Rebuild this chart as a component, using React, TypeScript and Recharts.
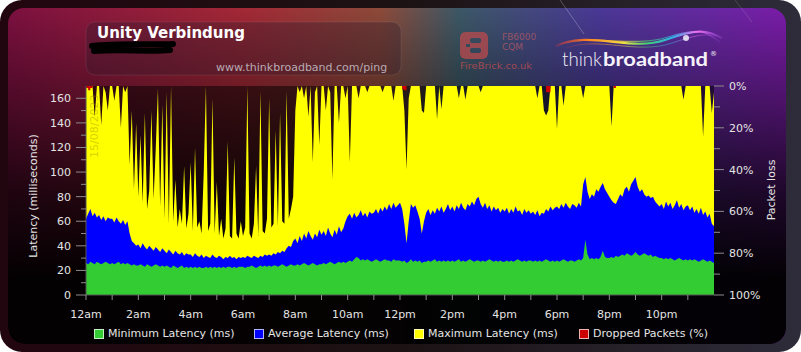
import React from "react";
import { ComposedChart, Area, XAxis, YAxis, CartesianGrid } from "recharts";

// one sample every 5 minutes, one row per hour, last value is 24:00
const maxLatency = [
  170, 168, 170, 170, 145, 170, 170, 138, 170, 165, 150, 170,
  170, 158, 170, 170, 136, 170, 165, 170, 106, 150, 86, 140,
  80, 130, 75, 148, 70, 85, 150, 78, 120, 168, 72, 155,
  62, 165, 58, 170, 60, 94, 55, 70, 58, 105, 54, 66,
  108, 52, 120, 55, 60, 50, 100, 170, 52, 58, 160, 50,
  92, 48, 62, 46, 54, 125, 48, 46, 112, 50, 46, 60,
  48, 55, 170, 50, 46, 58, 105, 48, 166, 52, 50, 62,
  160, 55, 58, 134, 56, 148, 60, 58, 166, 62, 70, 80,
  150, 170, 165, 170, 160, 170, 145, 170, 108, 165, 170, 122,
  170, 170, 150, 170, 165, 94, 170, 170, 140, 170, 170, 160,
  170, 108, 170, 170, 170, 160, 170, 170, 170, 165, 170, 170,
  170, 170, 170, 170, 165, 170, 170, 170, 170, 158, 170, 170,
  170, 170, 150, 102, 160, 170, 170, 170, 170, 170, 150, 148,
  170, 170, 170, 170, 170, 143, 170, 151, 170, 170, 170, 170,
  170, 170, 170, 160, 170, 170, 159, 170, 170, 170, 170, 170,
  170, 165, 170, 170, 170, 170, 170, 170, 170, 170, 170, 170,
  170, 170, 170, 170, 170, 170, 170, 170, 170, 170, 170, 170,
  170, 170, 170, 160, 170, 170, 150, 146, 150, 170, 170, 170,
  135, 170, 170, 154, 170, 170, 170, 170, 170, 170, 170, 170,
  160, 170, 170, 170, 170, 170, 170, 170, 170, 170, 170, 170,
  170, 137, 170, 170, 170, 170, 170, 170, 170, 170, 170, 170,
  170, 170, 170, 170, 170, 170, 170, 170, 170, 170, 170, 170,
  170, 170, 170, 170, 170, 170, 170, 170, 170, 170, 159, 170,
  170, 170, 170, 170, 170, 170, 170, 129, 170, 170, 170, 148,
  165,
];

const avgLatency = [
  62, 66, 70, 64, 67, 63, 65, 61, 64, 60, 63, 62,
  62, 59, 63, 60, 58, 61, 57, 60, 50, 44, 42, 40,
  41, 38, 42, 39, 37, 40, 38, 36, 39, 37, 35, 38,
  36, 34, 37, 35, 33, 36, 34, 33, 35, 32, 34, 33,
  33, 31, 34, 32, 31, 33, 30, 32, 31, 30, 33, 31,
  30, 32, 31, 29, 31, 30, 32, 30, 31, 29, 31, 30,
  31, 30, 32, 31, 30, 32, 31, 30, 32, 31, 33, 32,
  33, 32, 34, 33, 35, 34, 36, 35, 38, 40, 39, 44,
  46, 42, 48, 44, 50, 46, 52, 48, 45, 50, 47, 53,
  49, 52, 48, 55, 50, 47, 53, 49, 56, 51, 54, 60,
  64, 66, 62, 67, 63, 65, 69, 64, 67, 63, 68, 66,
  67, 70, 66, 71, 68, 72, 69, 74, 70, 75, 71, 73,
  75, 70, 58, 42, 60, 74, 71, 73, 68, 62, 50, 60,
  67, 70, 65, 69, 66, 71, 68, 72, 67, 70, 74, 69,
  72, 68, 73, 70, 75, 71, 69, 74, 72, 76, 73, 78,
  80, 74, 71, 75, 70, 73, 68, 72, 69, 71, 67, 70,
  68, 71, 66, 70, 67, 72, 68, 69, 65, 70, 67, 69,
  66, 68, 65, 69, 64, 67, 66, 70, 68, 72, 69, 71,
  72, 70, 74, 71, 75, 72, 70, 74, 73, 71, 75, 72,
  90, 96, 84, 78, 82, 80, 86, 84, 88, 91, 86, 83,
  80, 77, 75, 74, 78, 82, 80, 86, 88, 84, 90, 93,
  96, 88, 84, 86, 82, 80, 81, 79, 80, 76, 74, 72,
  74, 70, 76, 72, 75, 70, 73, 77, 71, 74, 69, 72,
  73, 69, 72, 67, 70, 66, 71, 65, 68, 63, 66, 58,
  56,
];

const minLatency = [
  26, 25, 27, 26, 25, 27, 26, 25, 26, 27, 26, 25,
  26, 25, 26, 27, 25, 26, 25, 26, 25, 24, 25, 24,
  24, 25, 24, 23, 25, 24, 23, 24, 25, 24, 23, 24,
  23, 24, 23, 22, 24, 23, 22, 23, 24, 22, 23, 22,
  23, 22, 23, 22, 23, 22, 22, 23, 22, 23, 22, 23,
  22, 23, 22, 23, 22, 23, 23, 22, 23, 22, 23, 23,
  23, 22, 23, 23, 24, 23, 22, 23, 24, 23, 24, 23,
  24, 23, 24, 24, 23, 24, 25, 24, 23, 24, 25, 24,
  24, 25, 24, 25, 26, 25, 24, 25, 26, 25, 24, 25,
  25, 26, 25, 26, 27, 26, 25, 26, 27, 26, 27, 26,
  27, 28, 27, 29, 31, 30, 28, 29, 28, 29, 28, 27,
  28, 29, 28, 27, 28, 29, 28, 28, 27, 29, 28, 28,
  28, 27, 28, 26, 27, 29, 27, 28, 27, 28, 26, 27,
  27, 28, 27, 28, 29, 27, 28, 27, 28, 27, 28, 27,
  28, 27, 28, 29, 27, 28, 27, 28, 29, 28, 27, 28,
  28, 27, 28, 27, 28, 29, 28, 27, 28, 27, 28, 27,
  27, 28, 27, 28, 27, 28, 29, 28, 27, 28, 27, 28,
  28, 27, 28, 27, 28, 27, 28, 29, 28, 27, 28, 27,
  28, 27, 28, 29, 28, 27, 28, 28, 27, 28, 29, 28,
  30, 45, 33, 29, 30, 29, 30, 29, 31, 36, 31, 30,
  30, 31, 30, 32, 31, 32, 33, 32, 34, 33, 32, 33,
  35, 33, 32, 33, 34, 33, 32, 33, 31, 32, 31, 30,
  30, 29, 30, 29, 30, 29, 28, 29, 30, 29, 28, 29,
  28, 29, 28, 29, 28, 27, 28, 29, 28, 27, 28, 27,
  26,
];

const droppedPackets = [
  1, 2, 1, 0, 0, 0, 0, 0, 0, 0, 0, 0,
  0, 0, 0, 0, 0, 0, 0, 0, 0, 0, 0, 0,
  0, 0, 0, 0, 0, 0, 0, 0, 0, 0, 0, 0,
  0, 0, 0, 0, 0, 0, 0, 0, 0, 0, 0, 0,
  0, 0, 0, 0, 0, 0, 0, 0, 0, 0, 0, 0,
  0, 0, 0, 0, 0, 0, 0, 0, 0, 0, 0, 0,
  0, 0, 0, 0, 0, 0, 0, 0, 0, 0, 0, 0,
  0, 0, 0, 0, 0, 0, 0, 0, 0, 0, 0, 0,
  0, 0, 0, 0, 0, 0, 0, 0, 0, 0, 0, 0,
  0, 0, 0, 0, 0, 0, 0, 0, 0, 0, 0, 0,
  0, 0, 0, 0, 0, 0, 0, 0, 0, 0, 0, 0,
  0, 0, 0, 0, 0, 0, 0, 0, 0, 0, 0, 0,
  0, 1.5, 2, 0, 0, 0, 0, 0, 0, 0, 0, 0,
  0, 0, 0, 0, 0, 0, 0, 0, 0, 0, 0, 0,
  0, 0, 0, 0, 0, 0, 0, 0, 0, 0, 0, 0,
  0, 0, 0, 0, 0, 0, 0, 0, 0, 0, 0, 0,
  0, 0, 0, 0, 0, 0, 0, 0, 0, 0, 0, 0,
  0, 0, 0, 0, 0, 0, 0, 3, 3, 0, 0, 0,
  0, 0, 0, 0, 0, 0, 0, 0, 0, 0, 0, 0,
  0, 0, 0, 0, 0, 0, 0, 0, 0, 0, 0, 0,
  0, 0, 1, 0, 0, 0, 0, 0, 0, 0, 0, 0,
  0, 0, 0, 0, 0, 0, 0, 0, 0, 0, 0, 0,
  0, 0, 0, 0, 0, 0, 0, 0, 0, 0, 0, 0,
  0, 0, 0, 0, 0, 0, 0, 0, 0, 0, 0, 0,
  0,
];

const hourTicks = [0, 1, 2, 3, 4, 5, 6, 7, 8, 9, 10, 11, 12, 13, 14, 15, 16, 17, 18, 19, 20, 21, 22, 23];
const hourLabels = [
  "12am", "", "2am", "", "4am", "", "6am", "", "8am", "", "10am", "",
  "12pm", "", "2pm", "", "4pm", "", "6pm", "", "8pm", "", "10pm", "",
];
const latencyTicks = [0, 10, 20, 30, 40, 50, 60, 70, 80, 90, 100, 110, 120, 130, 140, 150, 160];
const lossTicks = [0, 10, 20, 30, 40, 50, 60, 70, 80, 90, 100];
const legendNames = ["Minimum Latency (ms)", "Average Latency (ms)", "Maximum Latency (ms)", "Dropped Packets (%)"];

const COLORS = ["#33cc33", "#0000ff", "#ffff00", "#cc0000"];
const LEGEND_X = [94, 254, 414, 579];

const rows = maxLatency.map((v, i) => ({
  hour: i / 12,
  max: v,
  avg: avgLatency[i],
  min: minLatency[i],
  dropped: droppedPackets[i],
}));

const FONT = "'DejaVu Sans', Verdana, sans-serif";
const TICK_COLOR = "#8c8c8c";
const LABEL_COLOR = "#e4e4e4";

const LatencyTick = (props: any) => {
  const { x, y, payload } = props;
  const major = payload.value % 20 === 0;
  const edge = x + 15;
  return (
    <g>
      <line x1={edge - (major ? 10 : 5)} x2={edge} y1={y} y2={y} stroke={TICK_COLOR} />
      {major && (
        <text x={x} y={y + 4} textAnchor="end" fill={LABEL_COLOR} fontSize={11} fontFamily={FONT}>
          {payload.value}
        </text>
      )}
    </g>
  );
};

const LossTick = (props: any) => {
  const { x, y, payload } = props;
  const major = payload.value % 20 === 0;
  const edge = x - 15;
  return (
    <g>
      <line x1={edge} x2={edge + (major ? 10 : 6)} y1={y} y2={y} stroke={TICK_COLOR} />
      {major && (
        <text x={x} y={y + 4} textAnchor="start" fill={LABEL_COLOR} fontSize={11} fontFamily={FONT}>
          {payload.value}%
        </text>
      )}
    </g>
  );
};

const HourTick = (props: any) => {
  const { x, y, payload } = props;
  const axisY = y - 15;
  return (
    <g>
      <line x1={x} x2={x} y1={axisY} y2={axisY + 5} stroke={TICK_COLOR} />
      <text x={x} y={axisY + 23} textAnchor="middle" fill={LABEL_COLOR} fontSize={11} fontFamily={FONT}>
        {hourLabels[payload.value]}
      </text>
    </g>
  );
};

function Backdrop() {
  return (
    <svg width={801} height={352} style={{ position: "absolute", left: 0, top: 0 }}>
      <defs>
        <linearGradient id="frame" x1="0" x2="1" y1="0" y2="0">
          <stop offset="0" stopColor="#22060f" />
          <stop offset="0.5" stopColor="#1c1214" />
          <stop offset="1" stopColor="#2e2c3a" />
        </linearGradient>
        <linearGradient id="hue" x1="0" x2="1" y1="0" y2="0">
          <stop offset="0" stopColor="#7c1040" />
          <stop offset="0.3" stopColor="#a32836" />
          <stop offset="0.48" stopColor="#8c4a3a" />
          <stop offset="0.58" stopColor="#3c5866" />
          <stop offset="0.76" stopColor="#4a3896" />
          <stop offset="1" stopColor="#7a1ca8" />
        </linearGradient>
        <linearGradient id="fade" x1="0" x2="0" y1="0" y2="1">
          <stop offset="0" stopColor="#000" stopOpacity="0" />
          <stop offset="0.22" stopColor="#000" stopOpacity="0.3" />
          <stop offset="0.55" stopColor="#000" stopOpacity="0.75" />
          <stop offset="0.8" stopColor="#000" stopOpacity="0.97" />
        </linearGradient>
        <mask id="fbMask">
          <rect x={460} y={32} width={28} height={27} rx={5} fill="#fff" />
          <rect x={470} y={38} width={11} height={5} rx={2} fill="#000" />
          <rect x={470} y={48} width={11} height={5} rx={2} fill="#000" />
          <rect x={466} y={44} width={4} height={3} fill="#000" />
        </mask>
        <linearGradient id="swoosh" x1="0" x2="1" y1="0" y2="0">
          <stop offset="0" stopColor="#ff3a2a" stopOpacity="0.2" />
          <stop offset="0.2" stopColor="#ff8a20" />
          <stop offset="0.4" stopColor="#f4e040" />
          <stop offset="0.55" stopColor="#40d070" />
          <stop offset="0.7" stopColor="#30b0e8" />
          <stop offset="0.85" stopColor="#f070f0" />
          <stop offset="1" stopColor="#c060ff" stopOpacity="0.2" />
        </linearGradient>
      </defs>
      <rect x={0} y={0} width={801} height={352} rx={22} fill="url(#frame)" />
      <rect x={8} y={8} width={778} height={336} rx={16} fill="url(#hue)" />
      <rect x={8} y={8} width={778} height={336} rx={16} fill="url(#fade)" />
      <line x1={560} y1={0} x2={584} y2={34} stroke="#ffffff" strokeOpacity={0.25} />
      <line x1={735} y1={0} x2={752} y2={22} stroke="#ffffff" strokeOpacity={0.15} />
      <rect x={86} y={22} width={315} height={53} rx={9} fill="#2a1a2a" fillOpacity={0.32} stroke="#ffffff" strokeOpacity={0.08} />

      {/* FireBrick badge */}
      <rect x={460} y={32} width={28} height={27} rx={5} fill="#c44a4c" fillOpacity={0.7} mask="url(#fbMask)" />
      <text x={502} y={40} fontSize={9} fontFamily={FONT} fill="#b85a64" fillOpacity={0.75}>FB6000</text>
      <text x={502} y={50} fontSize={9} fontFamily={FONT} fill="#b85a64" fillOpacity={0.75}>CQM</text>
      <text x={460} y={69} fontSize={9.5} fontFamily={FONT} fill="#c04c50" fillOpacity={0.8} textLength={72} lengthAdjust="spacingAndGlyphs">FireBrick.co.uk</text>

      {/* thinkbroadband mark */}
      <path d="M556 46 C 590 30, 630 52, 665 40 S 705 30, 722 38" fill="none" stroke="url(#swoosh)" strokeWidth={2.2} />
      <path d="M560 44 C 596 34, 632 48, 668 37 S 708 34, 720 42" fill="none" stroke="url(#swoosh)" strokeWidth={1.2} strokeOpacity={0.7} />
      <path d="M566 48 C 600 36, 636 55, 672 43 S 706 36, 716 36" fill="none" stroke="url(#swoosh)" strokeWidth={1} strokeOpacity={0.5} />
      <circle cx={686} cy={38} r={3} fill="#ffffff" fillOpacity={0.8} />
      <text x={562} y={66} fontSize={19} fontFamily="Lato, sans-serif" fontWeight={300} fill="#f2eef6" textLength={40} lengthAdjust="spacingAndGlyphs">think</text>
      <text x={603} y={66} fontSize={19} fontFamily="Lato, sans-serif" fontWeight={700} fill="#f6f2fa" textLength={105} lengthAdjust="spacingAndGlyphs">broadband</text>
      <text x={710} y={56} fontSize={7} fontFamily={FONT} fill="#f0f0f0">®</text>
    </svg>
  );
}

function Overlay() {
  return (
    <svg width={801} height={352} style={{ position: "absolute", left: 0, top: 0, pointerEvents: "none" }}>
      <defs>
        <clipPath id="plotClip">
          <rect x={86} y={86} width={628} height={209} />
        </clipPath>
      </defs>
      <text x={97} y={38} fontSize={15} fontWeight="bold" fontFamily={FONT} fill="#ffffff">Unity Verbindung</text>
      <path d="M92 46 C 120 43, 150 45, 173 44 M94 51 C 122 49, 150 52, 170 50" stroke="#000" strokeWidth={6} strokeLinecap="round" fill="none" />
      <text x={216} y={71} fontSize={11} fontFamily={FONT} fill="#b8aab4">www.thinkbroadband.com/ping</text>
      <text
        x={0}
        y={0}
        transform="translate(37 196) rotate(-90)"
        textAnchor="middle"
        fontSize={11}
        fontFamily={FONT}
        fill={LABEL_COLOR}
      >
        Latency (milliseconds)
      </text>
      <text
        x={0}
        y={0}
        transform="translate(775 190) rotate(-90)"
        textAnchor="middle"
        fontSize={11}
        fontFamily={FONT}
        fill={LABEL_COLOR}
      >
        Packet loss
      </text>
      <g clipPath="url(#plotClip)">
        <text
          x={0}
          y={0}
          transform="translate(98 158) rotate(-90)"
          fontSize={11}
          fontFamily={FONT}
          fill="#9a8800"
          fillOpacity={0.4}
        >
          15/08/2023
        </text>
      </g>
    </svg>
  );
}

function ChartLegend() {
  return (
    <div style={{ position: "absolute", left: 0, top: 327, width: 801, height: 14, fontFamily: FONT, fontSize: 11, color: LABEL_COLOR, lineHeight: "14px" }}>
      {legendNames.map((name, i) => (
        <div key={name} style={{ position: "absolute", left: LEGEND_X[i], top: 0, display: "flex", alignItems: "center", whiteSpace: "nowrap" }}>
          <div
            style={{
              width: 8,
              height: 8,
              background: COLORS[i],
              border: "1px solid rgba(255,255,255,0.7)",
              marginRight: 4,
            }}
          />
          <span>{name}</span>
        </div>
      ))}
    </div>
  );
}

export default function App() {
  return (
    <div style={{ position: "absolute", left: 0, top: 0, width: 801, height: 352 }}>
      <Backdrop />
      <div style={{ position: "absolute", left: 0, top: 0 }}>
        <ComposedChart
          width={801}
          height={352}
          data={rows}
          margin={{ top: 86, right: 0, bottom: 37, left: 0 }}
        >
          <CartesianGrid horizontal={false} vertical={false} fill="#000000" fillOpacity={0.5} />
          <XAxis
            dataKey="hour"
            type="number"
            domain={[0, 24]}
            ticks={hourTicks}
            interval={0}
            height={20}
            tickSize={5}
            tickMargin={10}
            tickLine={false}
            axisLine={{ stroke: "#555555" }}
            tick={(p: any) => <HourTick {...p} />}
          />
          <YAxis
            type="number"
            domain={[0, 170]}
            ticks={latencyTicks}
            interval={0}
            width={86}
            tickSize={10}
            tickMargin={5}
            tickLine={false}
            axisLine={{ stroke: "#555555" }}
            tick={(p: any) => <LatencyTick {...p} />}
          />
          <YAxis
            yAxisId="loss"
            orientation="right"
            type="number"
            reversed
            domain={[0, 100]}
            ticks={lossTicks}
            interval={0}
            width={87}
            tickSize={10}
            tickMargin={5}
            tickLine={false}
            axisLine={false}
            tick={(p: any) => <LossTick {...p} />}
          />
          <Area dataKey="max" type="linear" fill={COLORS[2]} fillOpacity={1} stroke="none" isAnimationActive={false} />
          <Area dataKey="avg" type="linear" fill={COLORS[1]} fillOpacity={1} stroke="none" isAnimationActive={false} />
          <Area dataKey="min" type="linear" fill={COLORS[0]} fillOpacity={1} stroke="none" isAnimationActive={false} />
          <Area
            dataKey="dropped"
            yAxisId="loss"
            type="stepAfter"
            baseValue={0}
            fill={COLORS[3]}
            fillOpacity={1}
            stroke="none"
            isAnimationActive={false}
          />
        </ComposedChart>
      </div>
      <Overlay />
      <ChartLegend />
    </div>
  );
}
